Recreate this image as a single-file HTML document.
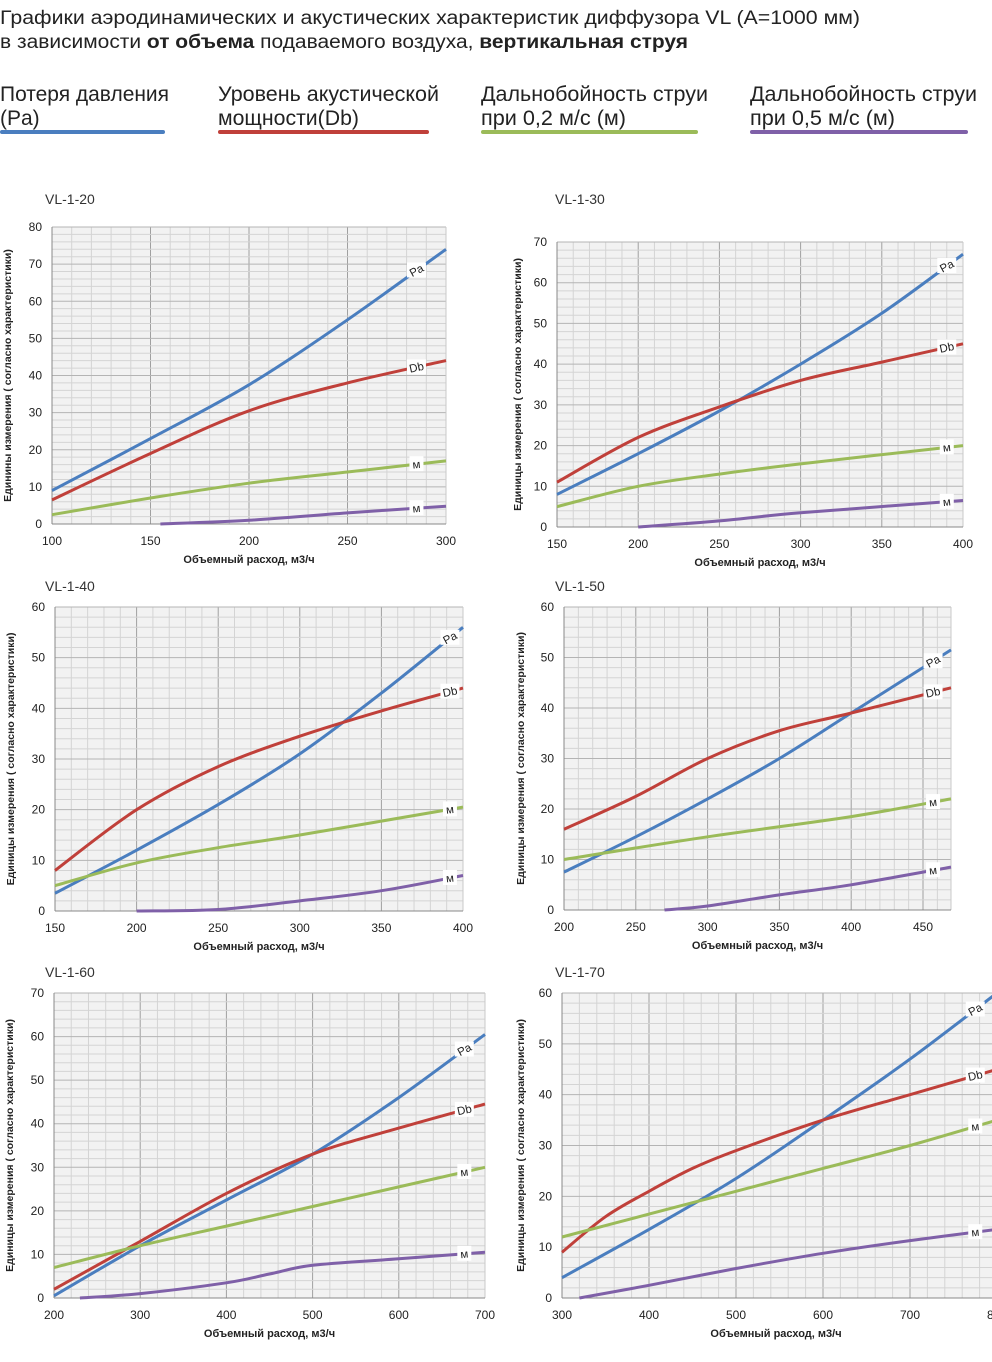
<!DOCTYPE html>
<html><head><meta charset="utf-8">
<style>
html,body{margin:0;padding:0;background:#fff;}
svg{display:block;font-family:"Liberation Sans","DejaVu Sans",sans-serif;}
</style></head>
<body>
<svg id="s" width="992" height="1362" viewBox="0 0 992 1362" xmlns="http://www.w3.org/2000/svg">
<g font-size="19" fill="#222">
<text x="0" y="24" textLength="860" lengthAdjust="spacingAndGlyphs">Графики аэродинамических и акустических характеристик  диффузора VL (А=1000 мм)</text>
<text x="0" y="48" textLength="688" lengthAdjust="spacingAndGlyphs">в зависимости <tspan font-weight="bold">от объема</tspan> подаваемого воздуха, <tspan font-weight="bold">вертикальная струя</tspan></text>
</g>
<g font-size="21" fill="#222">
<text x="0" y="101" textLength="169" lengthAdjust="spacingAndGlyphs">Потеря давления</text>
<text x="0" y="125">(Pa)</text>
<text x="218" y="101" textLength="221" lengthAdjust="spacingAndGlyphs">Уровень акустической</text>
<text x="218" y="125" textLength="141" lengthAdjust="spacingAndGlyphs">мощности(Db)</text>
<text x="481" y="101" textLength="227" lengthAdjust="spacingAndGlyphs">Дальнобойность струи</text>
<text x="481" y="125" textLength="145" lengthAdjust="spacingAndGlyphs">при 0,2 м/с (м)</text>
<text x="750" y="101" textLength="227" lengthAdjust="spacingAndGlyphs">Дальнобойность струи</text>
<text x="750" y="125" textLength="145" lengthAdjust="spacingAndGlyphs">при 0,5 м/с (м)</text>
</g>
<g stroke-width="4" stroke-linecap="round">
<line x1="2" y1="132" x2="163" y2="132" stroke="#4a7ebf"/>
<line x1="220" y1="132" x2="427" y2="132" stroke="#c0403a"/>
<line x1="483" y1="132" x2="696" y2="132" stroke="#9bbb59"/>
<line x1="752" y1="132" x2="966" y2="132" stroke="#7f60a8"/>
</g>
<g id="charts"></g>
</svg>
<script>
var C=[
{t:"VL-1-20",tx:45,ty:204,x0:52,x1:446,y0:524,y1:227,xa:100,xb:300,xs:50,ya:0,yb:80,ys:10,yl:7,
 s:[[[100,9],[150,23],[200,37.5],[250,55],[300,74]],[[100,6.5],[150,19],[200,30.5],[250,38],[300,44]],[[100,2.5],[150,7],[200,11],[250,14],[300,17]],[[155,0],[200,1],[250,3],[300,4.8]]],lx:285},
{t:"VL-1-30",tx:555,ty:204,x0:557,x1:963,y0:527,y1:242,xa:150,xb:400,xs:50,ya:0,yb:70,ys:10,yl:517,
 s:[[[150,8],[200,18],[250,28.5],[300,40],[350,52.5],[400,67]],[[150,11],[200,22],[250,29.5],[300,36],[350,40.5],[400,45]],[[150,5],[200,10],[250,13],[300,15.5],[400,20]],[[200,0],[250,1.5],[300,3.5],[400,6.5]]],lx:390},
{t:"VL-1-40",tx:45,ty:591,x0:55,x1:463,y0:911,y1:607,xa:150,xb:400,xs:50,ya:0,yb:60,ys:10,yl:10,
 s:[[[150,3.5],[200,12],[250,21],[300,31],[350,43],[400,56]],[[150,8],[200,20],[250,28.5],[300,34.5],[350,39.5],[400,44]],[[150,5],[200,9.5],[250,12.5],[300,15],[400,20.5]],[[200,0],[250,0.3],[300,2],[350,4],[400,7]]],lx:392},
{t:"VL-1-50",tx:555,ty:591,x0:564,x1:951,y0:910,y1:607,xa:200,xb:469.5,xs:50,ya:0,yb:60,ys:10,yl:520,
 s:[[[200,7.5],[250,14.5],[300,22],[350,30],[400,39],[469.5,51.5]],[[200,16],[250,22.5],[300,30],[350,35.5],[400,39],[469.5,44]],[[200,10],[300,14.5],[400,18.5],[469.5,22]],[[270,0],[300,0.8],[350,3],[400,5],[469.5,8.5]]],lx:457},
{t:"VL-1-60",tx:45,ty:977,x0:54,x1:485,y0:1298,y1:993,xa:200,xb:700,xs:100,ya:0,yb:70,ys:10,yl:9,
 s:[[[200,0.5],[300,12],[400,22.5],[500,33],[600,46],[700,60.5]],[[200,2],[300,13],[400,24],[500,33],[600,39],[700,44.5]],[[200,7],[300,12],[400,16.5],[500,21],[600,25.5],[700,30]],[[230,0],[300,1],[400,3.5],[450,5.5],[500,7.5],[600,9],[700,10.5]]],lx:676},
{t:"VL-1-70",tx:555,ty:977,x0:562,x1:997,y0:1298,y1:993,xa:300,xb:800,xs:100,ya:0,yb:60,ys:10,yl:520,
 s:[[[300,4],[400,13.5],[500,23.5],[600,35],[700,47],[800,60]],[[300,9],[350,16],[400,21],[450,25.5],[500,29],[600,35],[700,40],[800,45]],[[300,12],[400,16.5],[500,21],[600,25.5],[700,30],[800,35]],[[320,0],[400,2.5],[500,5.8],[600,8.8],[700,11.3],[800,13.5]]],lx:775}
];
var cols=["#4a7ebf","#c0403a","#9bbb59","#7f60a8"],labs=["Pa","Db","м","м"];
var h="";
function path(p){var d="M"+p[0][0].toFixed(1)+","+p[0][1].toFixed(1);
 for(var i=0;i<p.length-1;i++){var a=p[Math.max(i-1,0)],b=p[i],c=p[i+1],e=p[Math.min(i+2,p.length-1)];
 d+=" C"+(b[0]+(c[0]-a[0])/6).toFixed(1)+","+(b[1]+(c[1]-a[1])/6).toFixed(1)+" "+(c[0]-(e[0]-b[0])/6).toFixed(1)+","+(c[1]-(e[1]-b[1])/6).toFixed(1)+" "+c[0].toFixed(1)+","+c[1].toFixed(1);}
 return d;}
C.forEach(function(c){
 var X=function(v){return c.x0+(v-c.xa)/(c.xb-c.xa)*(c.x1-c.x0)},Y=function(v){return c.y0+(v-c.ya)/(c.yb-c.ya)*(c.y1-c.y0)};
 h+='<text x="'+c.tx+'" y="'+c.ty+'" font-size="14" fill="#333">'+c.t+'</text>';
 h+='<rect x="'+c.x0+'" y="'+c.y1+'" width="'+(c.x1-c.x0)+'" height="'+(c.y0-c.y1)+'" fill="#f2f2f2"/>';
 var ms=c.xs/5;
 for(var v=c.xa;v<=c.xb+0.01;v+=ms){var maj=Math.abs((v-c.xa)%c.xs)<0.01;var x=X(v);
  h+='<line x1="'+x+'" y1="'+c.y1+'" x2="'+x+'" y2="'+c.y0+'" stroke="'+(maj?'#a0a0a0':'#d4d4d4')+'" stroke-width="1"/>';}
 for(var v=c.ya;v<=c.yb+0.01;v+=c.ys/5){var maj=Math.abs(v%c.ys)<0.01;var y=Y(v);
  h+='<line x1="'+c.x0+'" y1="'+y+'" x2="'+c.x1+'" y2="'+y+'" stroke="'+(maj?'#b4b4b4':'#d4d4d4')+'" stroke-width="1"/>';}
 h+='<line x1="'+c.x1+'" y1="'+c.y1+'" x2="'+c.x1+'" y2="'+c.y0+'" stroke="#c8c8c8"/>';
 h+='<line x1="'+c.x0+'" y1="'+c.y1+'" x2="'+c.x0+'" y2="'+c.y0+'" stroke="#888"/>';
 h+='<line x1="'+c.x0+'" y1="'+c.y0+'" x2="'+c.x1+'" y2="'+c.y0+'" stroke="#888"/>';
 for(var v=c.ya;v<=c.yb;v+=c.ys){h+='<text x="'+(c.x0-10)+'" y="'+(Y(v)+4)+'" font-size="12" text-anchor="end" fill="#222">'+v+'</text>';}
 for(var v=c.xa;v<=c.xb+0.01;v+=c.xs){h+='<text x="'+X(v)+'" y="'+(c.y0+21)+'" font-size="12" text-anchor="middle" fill="#222">'+v+'</text>';}
 h+='<text x="'+((c.x0+Math.min(c.x1,990))/2)+'" y="'+(c.y0+39)+'" font-size="11" font-weight="bold" text-anchor="middle" fill="#222">Объемный расход, м3/ч</text>';
 var cy=(c.y0+c.y1)/2;
 h+='<text transform="translate('+(c.yl+4)+','+cy+') rotate(-90)" font-size="10.5" font-weight="bold" text-anchor="middle" fill="#222">'+(c.t=="VL-1-20"?"Единины":"Единицы")+' измерения ( согласно характеристики)</text>';
 h+='<g fill="none" stroke-width="3">';
 c.s.forEach(function(s,i){var p=s.map(function(q){return [X(q[0]),Y(q[1])]});
  h+='<path d="'+path(p)+'" stroke="'+cols[i]+'"/>';});
 h+='</g>';
 c.s.forEach(function(s,i){
  var lx=c.lx,yv=s[s.length-1][1];
  for(var k=0;k<s.length-1;k++){if(lx>=s[k][0]&&lx<=s[k+1][0]){yv=s[k][1]+(s[k+1][1]-s[k][1])*(lx-s[k][0])/(s[k+1][0]-s[k][0]);}}
  var x=X(lx),y=Y(yv);
  var w=i<2?19:14;
  h+='<rect x="'+(x-w/2)+'" y="'+(y-8)+'" width="'+w+'" height="15" fill="#fff"/>';
  h+='<text x="'+x+'" y="'+(y+4)+'" font-size="11.5" text-anchor="middle" fill="#222" transform="rotate('+(i==0?-28:(i==1?-12:-6))+' '+x+' '+y+')">'+labs[i]+'</text>';
 });
});
document.getElementById("charts").innerHTML=h;
</script>
</body></html>
